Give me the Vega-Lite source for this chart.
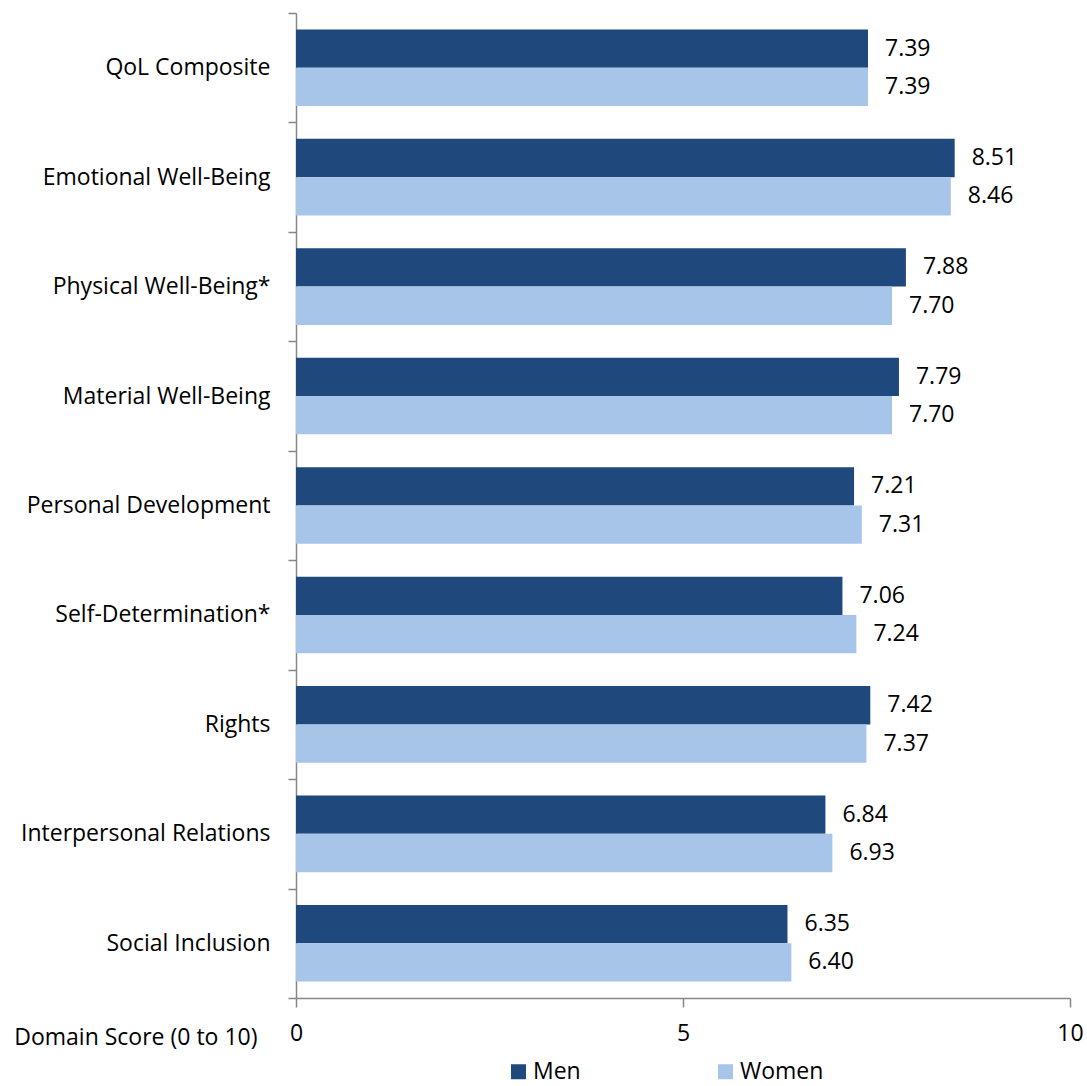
{
  "$schema": "https://vega.github.io/schema/vega-lite/v6.json",
  "width": 774,
  "height": 985,
  "autosize": {"type": "none"},
  "padding": {"left": 296, "top": 13, "right": 17, "bottom": 88},
  "background": "white",
  "config": {
    "view": {"stroke": null},
    "font": "Open Sans",
    "axis": {"labelFont": "Open Sans", "titleFont": "Open Sans", "labelColor": "#000000", "titleColor": "#000000", "domainColor": "#868686", "tickColor": "#868686", "domainWidth": 1.5, "tickWidth": 1.5, "grid": false},
    "legend": {"labelFont": "Open Sans"}
  },
  "data": {
    "values": [
      {"domain": "QoL Composite", "gender": "Men", "score": 7.39},
      {"domain": "QoL Composite", "gender": "Women", "score": 7.39},
      {"domain": "Emotional Well-Being", "gender": "Men", "score": 8.51},
      {"domain": "Emotional Well-Being", "gender": "Women", "score": 8.46},
      {"domain": "Physical Well-Being*", "gender": "Men", "score": 7.88},
      {"domain": "Physical Well-Being*", "gender": "Women", "score": 7.70},
      {"domain": "Material Well-Being", "gender": "Men", "score": 7.79},
      {"domain": "Material Well-Being", "gender": "Women", "score": 7.70},
      {"domain": "Personal Development", "gender": "Men", "score": 7.21},
      {"domain": "Personal Development", "gender": "Women", "score": 7.31},
      {"domain": "Self-Determination*", "gender": "Men", "score": 7.06},
      {"domain": "Self-Determination*", "gender": "Women", "score": 7.24},
      {"domain": "Rights", "gender": "Men", "score": 7.42},
      {"domain": "Rights", "gender": "Women", "score": 7.37},
      {"domain": "Interpersonal Relations", "gender": "Men", "score": 6.84},
      {"domain": "Interpersonal Relations", "gender": "Women", "score": 6.93},
      {"domain": "Social Inclusion", "gender": "Men", "score": 6.35},
      {"domain": "Social Inclusion", "gender": "Women", "score": 6.40}
    ]
  },
  "encoding": {
    "y": {
      "field": "domain", "type": "nominal", "sort": null,
      "scale": {"paddingInner": 0, "paddingOuter": 0},
      "axis": {"title": null, "tickBand": "extent", "tickSize": 8, "labelPadding": 18, "labelFontSize": 23, "labelLimit": 300}
    },
    "yOffset": {
      "field": "gender", "type": "nominal", "sort": ["Men", "Women"],
      "scale": {"paddingInner": 0, "paddingOuter": 0.4286}
    },
    "x": {
      "field": "score", "type": "quantitative",
      "scale": {"domain": [0, 10], "nice": false},
      "axis": {"values": [0, 5, 10], "tickSize": 9, "labelFontSize": 23, "labelPadding": 15, "labelFlush": false,
        "title": "Domain Score (0 to 10)", "titleFontSize": 23, "titleFontWeight": "normal",
        "titleX": -39, "titleY": 46, "titleAlign": "right", "titleBaseline": "alphabetic", "titleAnchor": "start"}
    }
  },
  "layer": [
    {
      "mark": {"type": "bar"},
      "encoding": {
        "color": {
          "field": "gender", "type": "nominal", "sort": ["Men", "Women"],
          "scale": {"domain": ["Men", "Women"], "range": ["#1F487C", "#A6C5E9"]},
          "legend": {"title": null, "orient": "none", "direction": "horizontal", "legendX": 211, "legendY": 1047,
            "symbolType": "square", "symbolSize": 225, "symbolStrokeWidth": 0, "labelFontSize": 23, "labelOffset": 3,
            "columnPadding": 133, "labelColor": "#000000"}
        }
      }
    },
    {
      "mark": {"type": "text", "align": "left", "baseline": "middle", "dx": 17, "fontSize": 23, "color": "#000000"},
      "encoding": {
        "text": {"field": "score", "type": "quantitative", "format": ".2f"}
      }
    }
  ]
}
